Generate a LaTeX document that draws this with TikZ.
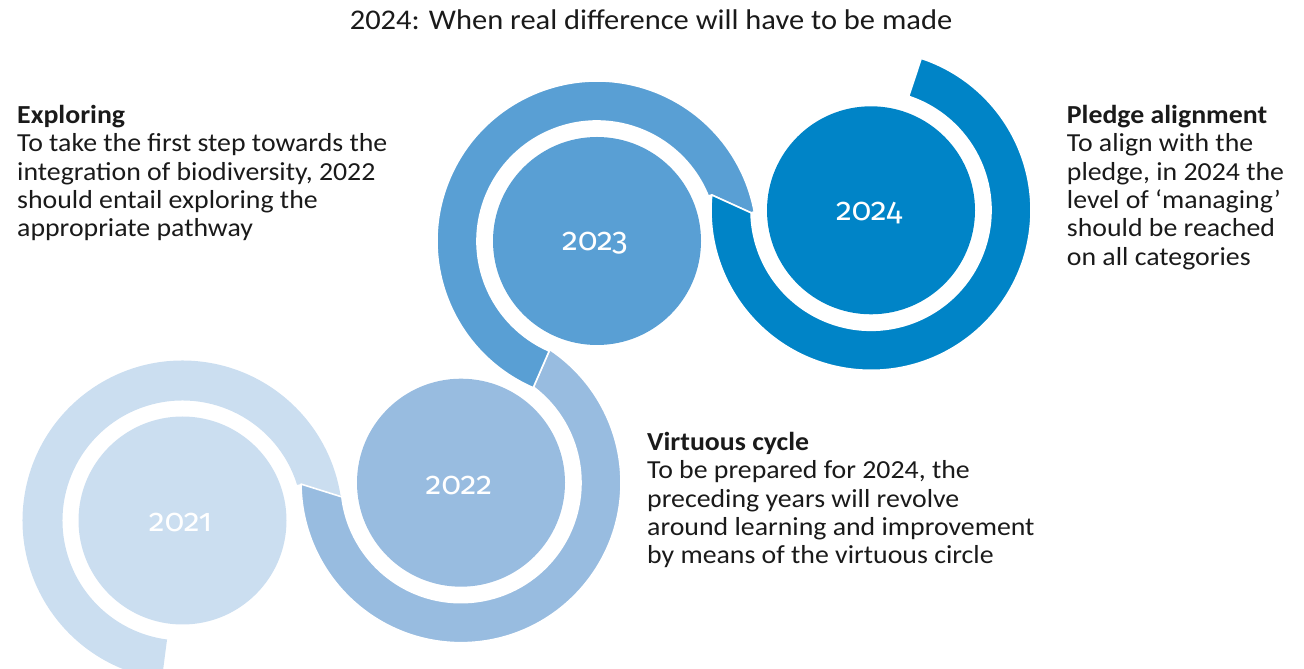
\documentclass[tikz,border=0pt]{standalone}
\usepackage{fontspec}
\setmainfont{Carlito}[FakeStretch=1.07]
\newfontfamily\yearfont{Fira Sans}[Numbers=OldStyle]
\usetikzlibrary{calc}
\definecolor{cA}{RGB}{203,222,240}
\definecolor{cB}{RGB}{152,188,224}
\definecolor{cC}{RGB}{89,159,212}
\definecolor{cD}{RGB}{0,132,199}
\definecolor{ink}{RGB}{26,26,26}
\begin{document}
\begin{tikzpicture}[x=1pt,y=1pt,
  ring/.style={draw=white,line width=1.6pt,line join=round},
  disc/.style={circle,minimum size=208pt,inner sep=0pt,text=white},
  yearlabel/.style={text=white,font=\yearfont\fontsize{32}{32}\selectfont,yshift=-2.5pt,xshift=-2pt},
  body/.style={anchor=north west,align=left,inner sep=0pt,text=ink,
    font=\fontsize{26}{28.35}\selectfont}]
\useasboundingbox (0,0) rectangle (1304,669);
\coordinate (C1) at (182.5,148.5);
\coordinate (C2) at (461,186.3);
\coordinate (C3) at (597,428);
\coordinate (C4) at (871,458.7);
% junction points
\coordinate (J1o) at ($(C2)+(180.5:160)$);
\coordinate (J1i) at ($(C2)+(186.8:120)$);
\coordinate (J2i) at ($(C3)+(246.5:120)$);
\coordinate (J2o) at ($(C3)+(246.5:160)$);
\coordinate (J3o) at ($(C4)+(174.5:160)$);
\coordinate (J3i) at ($(C4)+(181.2:120)$);
% ring 2021
\fill[cA] ($(C1)+(262.6:160)$) arc[start angle=262.6,end angle=9.3,radius=160]
  -- (J1i) -- (J1o) -- ($(C1)+(17.3:120)$) arc[start angle=17.3,end angle=262.6,radius=120] -- cycle;
\node[disc,fill=cA] (d21) at (C1) {};
\node[yearlabel] (y21) at (d21.center) {2021};
% ring 2022
\path[ring,fill=cB] (J1o) arc[start angle=180.5,end angle=416,radius=160]
  -- (J2i) -- (J2o) -- ($(C2)+(52.7:120)$) arc[start angle=412.7,end angle=186.8,radius=120] -- cycle;
\node[disc,fill=cB] (d22) at (C2) {};
\node[yearlabel] (y22) at (d22.center) {2022};
% ring 2023
\path[ring,fill=cC] (J2o) arc[start angle=246.5,end angle=10.5,radius=160]
  -- (J3i) -- (J3o) -- ($(C3)+(22:120)$) arc[start angle=22,end angle=246.5,radius=120] -- cycle;
\node[disc,fill=cC] (d23) at (C3) {};
\node[yearlabel] (y23) at (d23.center) {2023};
% ring 2024
\path[ring,fill=cD] (J3o) arc[start angle=174.5,end angle=431.7,radius=160]
  -- ($(C4)+(71.7:120)$) arc[start angle=431.7,end angle=181.2,radius=120] -- cycle;
\node[disc,fill=cD] (d24) at (C4) {};
\node[yearlabel] (y24) at (d24.center) {2024};
% texts
\node[text=ink,font=\fontsize{28.5}{30}\selectfont,anchor=base] (title) at (651,639)
  {2024: When real difference will have to be made};
\node[body] (explore) at (17,564) {\textbf{Exploring}\\To take the first step towards the\\integration of biodiversity, 2022\\should entail exploring the\\appropriate pathway};
\node[body] (virtue) at (647,237) {\textbf{Virtuous cycle}\\To be prepared for 2024, the\\preceding years will revolve\\around learning and improvement\\by means of the virtuous circle};
\node[body] (pledge) at (1066.7,564) {\textbf{Pledge alignment}\\To align with the\\pledge, in 2024 the\\level of ‘managing’\\should be reached\\on all categories};
\end{tikzpicture}
\end{document}
